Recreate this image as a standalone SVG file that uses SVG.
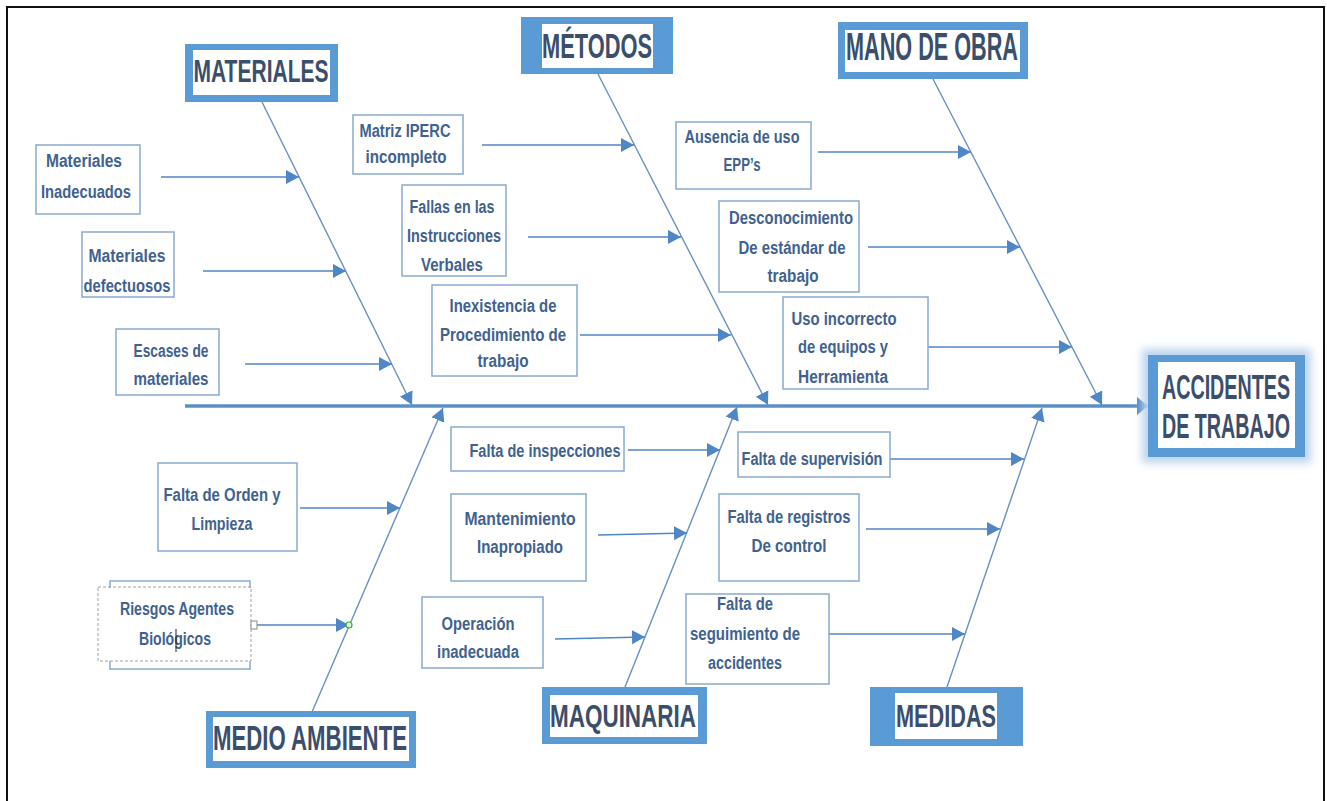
<svg xmlns="http://www.w3.org/2000/svg" width="1327" height="801" viewBox="0 0 1327 801">
<style>
.box{fill:#ffffff;stroke:#8aa9d0;stroke-width:1.5}
.t{font-family:"Liberation Sans",Arial,sans-serif;font-weight:bold;font-size:18px;fill:#41628f;text-anchor:middle}
.h{font-family:"Liberation Sans",Arial,sans-serif;font-weight:bold;fill:#3b4e6b;text-anchor:middle}
.frame{fill:#5b9bd5}
.inner{fill:#ffffff}
.arr{stroke:#4f86c6;stroke-width:1.5;fill:none}
.bone{stroke:#6a8fc3;stroke-width:1.4;fill:none}
</style>
<defs>
<marker id="ah" markerUnits="userSpaceOnUse" markerWidth="14" markerHeight="16" viewBox="0 0 14 16" refX="13" refY="8" orient="auto">
<path d="M0,1 L13,8 L0,15 z" fill="#4f86c6"/>
</marker>
<marker id="ahs" markerUnits="userSpaceOnUse" markerWidth="12" markerHeight="18" viewBox="0 0 12 18" refX="11" refY="9" orient="auto">
<path d="M0,0 L11,9 L0,18 z" fill="#4f86c6"/>
</marker>
<filter id="blur" x="-20%" y="-200%" width="140%" height="500%"><feGaussianBlur stdDeviation="3"/></filter>
<filter id="blur2" x="-20%" y="-20%" width="140%" height="140%"><feGaussianBlur stdDeviation="4"/></filter>
</defs>
<rect x="0" y="0" width="1327" height="801" fill="#ffffff"/>
<rect x="7" y="7" width="1317" height="800" fill="none" stroke="#111" stroke-width="2"/>

<g id="connectors">
<line x1="185" y1="408" x2="1140" y2="408" stroke="#9dbfe6" stroke-width="12" opacity="0.8" filter="url(#blur)"/>
<line x1="185" y1="406" x2="1148" y2="406" stroke="#5b8fc7" stroke-width="3.5" marker-end="url(#ahs)"/>
<line class="bone" x1="262" y1="102" x2="412" y2="405" marker-end="url(#ah)"/>
<line class="bone" x1="598" y1="74" x2="768" y2="405" marker-end="url(#ah)"/>
<line class="bone" x1="933" y1="79" x2="1102" y2="405" marker-end="url(#ah)"/>
<line class="bone" x1="312" y1="712" x2="443" y2="408" marker-end="url(#ah)"/>
<line class="bone" x1="625" y1="687" x2="737" y2="407" marker-end="url(#ah)"/>
<line class="bone" x1="947" y1="687" x2="1042" y2="408" marker-end="url(#ah)"/>
<line class="arr" x1="161" y1="177" x2="299" y2="177" marker-end="url(#ah)"/>
<line class="arr" x1="203" y1="271" x2="346" y2="271" marker-end="url(#ah)"/>
<line class="arr" x1="245" y1="364" x2="392" y2="364" marker-end="url(#ah)"/>
<line class="arr" x1="482" y1="145" x2="634" y2="145" marker-end="url(#ah)"/>
<line class="arr" x1="528" y1="237" x2="681" y2="237" marker-end="url(#ah)"/>
<line class="arr" x1="580" y1="335" x2="731" y2="335" marker-end="url(#ah)"/>
<line class="arr" x1="818" y1="152" x2="971" y2="152" marker-end="url(#ah)"/>
<line class="arr" x1="868" y1="247" x2="1020" y2="247" marker-end="url(#ah)"/>
<line class="arr" x1="920" y1="347" x2="1072" y2="347" marker-end="url(#ah)"/>
<line class="arr" x1="300" y1="508" x2="400" y2="508" marker-end="url(#ah)"/>
<line class="arr" x1="257" y1="625" x2="349" y2="625" marker-end="url(#ah)"/>
<line class="arr" x1="628" y1="450" x2="720" y2="450" marker-end="url(#ah)"/>
<line class="arr" x1="598" y1="535" x2="687" y2="533" marker-end="url(#ah)"/>
<line class="arr" x1="555" y1="639" x2="645" y2="637" marker-end="url(#ah)"/>
<line class="arr" x1="890" y1="459" x2="1024" y2="459" marker-end="url(#ah)"/>
<line class="arr" x1="866" y1="529" x2="1000" y2="529" marker-end="url(#ah)"/>
<line class="arr" x1="821" y1="634" x2="965" y2="634" marker-end="url(#ah)"/>
</g>

<g id="head">
<rect x="1142" y="349" width="169" height="114" fill="#bcd4ee" filter="url(#blur2)"/>
<rect class="frame" x="1148" y="355" width="157" height="102"/>
<rect class="inner" x="1158" y="362" width="137" height="86"/>
<text class="h" transform="translate(1226,399) scale(0.563,1)" x="0" y="0" font-size="35">ACCIDENTES</text>
<text class="h" transform="translate(1226,438) scale(0.563,1)" x="0" y="0" font-size="35">DE TRABAJO</text>
</g>

<g id="cat-materiales">
<rect class="frame" x="185" y="44" width="153" height="58"/>
<rect class="inner" x="193" y="50" width="137" height="45"/>
<text class="h" x="261" y="82" font-size="31" textLength="135" lengthAdjust="spacingAndGlyphs">MATERIALES</text>
</g>
<g id="cat-metodos">
<rect class="frame" x="521" y="17" width="152" height="57"/>
<rect class="inner" x="542" y="24" width="111" height="44"/>
<text class="h" x="597" y="58" font-size="35" textLength="110" lengthAdjust="spacingAndGlyphs">MÉTODOS</text>
</g>
<g id="cat-mano">
<rect class="frame" x="838" y="22" width="190" height="57"/>
<rect class="inner" x="845" y="30" width="175" height="42"/>
<text class="h" x="932" y="60" font-size="38" textLength="172" lengthAdjust="spacingAndGlyphs">MANO DE OBRA</text>
</g>
<g id="cat-medio">
<rect class="frame" x="206" y="711" width="210" height="57"/>
<rect class="inner" x="213" y="717" width="196" height="44"/>
<text class="h" x="310" y="750" font-size="35" textLength="194" lengthAdjust="spacingAndGlyphs">MEDIO AMBIENTE</text>
</g>
<g id="cat-maquinaria">
<rect class="frame" x="542" y="687" width="165" height="57"/>
<rect class="inner" x="550" y="695" width="148" height="42"/>
<text class="h" x="623" y="727" font-size="32" textLength="146" lengthAdjust="spacingAndGlyphs">MAQUINARIA</text>
</g>
<g id="cat-medidas">
<rect class="frame" x="870" y="687" width="153" height="59"/>
<rect class="inner" x="895" y="693" width="102" height="46"/>
<text class="h" x="946" y="727" font-size="32" textLength="100" lengthAdjust="spacingAndGlyphs">MEDIDAS</text>
</g>

<g id="c-mat-inadecuados">
<rect class="box" x="36" y="145" width="104" height="69"/>
<text class="t" x="84" y="167" textLength="76" lengthAdjust="spacingAndGlyphs">Materiales</text>
<text class="t" x="86" y="198" textLength="90" lengthAdjust="spacingAndGlyphs">Inadecuados</text>
</g>
<g id="c-mat-defectuosos">
<rect class="box" x="82" y="232" width="92" height="65"/>
<text class="t" x="127" y="262" textLength="77" lengthAdjust="spacingAndGlyphs">Materiales</text>
<text class="t" x="127" y="292" textLength="87" lengthAdjust="spacingAndGlyphs">defectuosos</text>
</g>
<g id="c-escases">
<rect class="box" x="116" y="329" width="103" height="66"/>
<text class="t" x="171" y="357" textLength="75" lengthAdjust="spacingAndGlyphs">Escases de</text>
<text class="t" x="171" y="385" textLength="75" lengthAdjust="spacingAndGlyphs">materiales</text>
</g>
<g id="c-matriz">
<rect class="box" x="353" y="115" width="110" height="59"/>
<text class="t" x="405" y="137" textLength="91" lengthAdjust="spacingAndGlyphs">Matriz IPERC</text>
<text class="t" x="406" y="163" textLength="81" lengthAdjust="spacingAndGlyphs">incompleto</text>
</g>
<g id="c-fallas">
<rect class="box" x="402" y="185" width="104" height="91"/>
<text class="t" x="452" y="213" textLength="85" lengthAdjust="spacingAndGlyphs">Fallas en las</text>
<text class="t" x="454" y="242" textLength="94" lengthAdjust="spacingAndGlyphs">Instrucciones</text>
<text class="t" x="452" y="271" textLength="62" lengthAdjust="spacingAndGlyphs">Verbales</text>
</g>
<g id="c-inexistencia">
<rect class="box" x="432" y="285" width="145" height="91"/>
<text class="t" x="503" y="312" textLength="107" lengthAdjust="spacingAndGlyphs">Inexistencia de</text>
<text class="t" x="503" y="341" textLength="126" lengthAdjust="spacingAndGlyphs">Procedimiento de</text>
<text class="t" x="503" y="367" textLength="51" lengthAdjust="spacingAndGlyphs">trabajo</text>
</g>
<g id="c-ausencia">
<rect class="box" x="676" y="122" width="135" height="67"/>
<text class="t" x="742" y="143" textLength="115" lengthAdjust="spacingAndGlyphs">Ausencia de uso</text>
<text class="t" x="742" y="171" textLength="37" lengthAdjust="spacingAndGlyphs">EPP’s</text>
</g>
<g id="c-desconocimiento">
<rect class="box" x="719" y="201" width="140" height="91"/>
<text class="t" x="791" y="224" textLength="124" lengthAdjust="spacingAndGlyphs">Desconocimiento</text>
<text class="t" x="792" y="254" textLength="107" lengthAdjust="spacingAndGlyphs">De estándar de</text>
<text class="t" x="793" y="282" textLength="51" lengthAdjust="spacingAndGlyphs">trabajo</text>
</g>
<g id="c-uso">
<rect class="box" x="783" y="297" width="145" height="92"/>
<text class="t" x="844" y="325" textLength="105" lengthAdjust="spacingAndGlyphs">Uso incorrecto</text>
<text class="t" x="843" y="353" textLength="90" lengthAdjust="spacingAndGlyphs">de equipos y</text>
<text class="t" x="843" y="383" textLength="90" lengthAdjust="spacingAndGlyphs">Herramienta</text>
</g>

<g id="c-orden">
<rect class="box" x="158" y="463" width="139" height="88"/>
<text class="t" x="222" y="501" textLength="117" lengthAdjust="spacingAndGlyphs">Falta de Orden y</text>
<text class="t" x="222" y="530" textLength="61" lengthAdjust="spacingAndGlyphs">Limpieza</text>
</g>
<g id="c-riesgos">
<path d="M110,588 V581 H250 V588 M110,661 V669 H250 V661" fill="none" stroke="#8aa9d0" stroke-width="1.5"/>
<rect x="98" y="587" width="153" height="74" fill="none" stroke="#a0a0a0" stroke-width="1" stroke-dasharray="3,2"/>
<rect x="251" y="621" width="6" height="8" fill="#ffffff" stroke="#8a8a8a" stroke-width="1"/>
<text class="t" x="177" y="615" textLength="114" lengthAdjust="spacingAndGlyphs">Riesgos Agentes</text>
<text class="t" x="175" y="645" textLength="72" lengthAdjust="spacingAndGlyphs">Biológicos</text>
<line x1="176" y1="629" x2="176" y2="652" stroke="#222" stroke-width="1"/>
<circle cx="349" cy="625" r="3" fill="#dff5d8" stroke="#3aa83a" stroke-width="1.2"/>
</g>
<g id="c-inspecciones">
<rect class="box" x="451" y="427" width="173" height="44"/>
<text class="t" x="545" y="457" textLength="151" lengthAdjust="spacingAndGlyphs">Falta de inspecciones</text>
</g>
<g id="c-mantenimiento">
<rect class="box" x="451" y="494" width="135" height="87"/>
<text class="t" x="520" y="525" textLength="111" lengthAdjust="spacingAndGlyphs">Mantenimiento</text>
<text class="t" x="520" y="553" textLength="86" lengthAdjust="spacingAndGlyphs">Inapropiado</text>
</g>
<g id="c-operacion">
<rect class="box" x="422" y="597" width="121" height="71"/>
<text class="t" x="478" y="630" textLength="73" lengthAdjust="spacingAndGlyphs">Operación</text>
<text class="t" x="478" y="658" textLength="82" lengthAdjust="spacingAndGlyphs">inadecuada</text>
</g>
<g id="c-supervision">
<rect class="box" x="738" y="432" width="152" height="45"/>
<text class="t" x="812" y="465" textLength="141" lengthAdjust="spacingAndGlyphs">Falta de supervisión</text>
</g>
<g id="c-registros">
<rect class="box" x="719" y="494" width="140" height="87"/>
<text class="t" x="789" y="523" textLength="123" lengthAdjust="spacingAndGlyphs">Falta de registros</text>
<text class="t" x="789" y="552" textLength="75" lengthAdjust="spacingAndGlyphs">De control</text>
</g>
<g id="c-seguimiento">
<rect class="box" x="686" y="594" width="143" height="90"/>
<text class="t" x="745" y="610" textLength="56" lengthAdjust="spacingAndGlyphs">Falta de</text>
<text class="t" x="745" y="640" textLength="110" lengthAdjust="spacingAndGlyphs">seguimiento de</text>
<text class="t" x="745" y="669" textLength="74" lengthAdjust="spacingAndGlyphs">accidentes</text>
</g>
</svg>
